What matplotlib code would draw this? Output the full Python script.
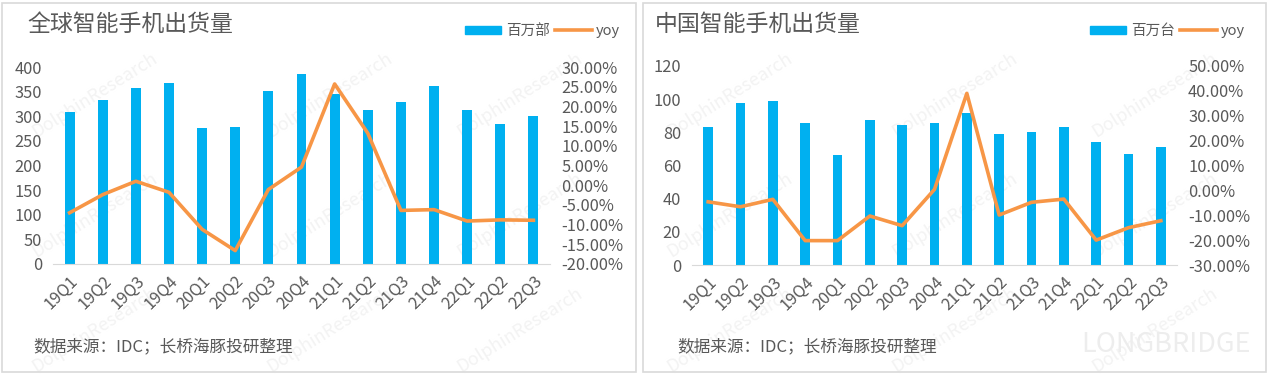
import matplotlib.pyplot as plt
import matplotlib.patches as mpatches
from matplotlib.lines import Line2D
from matplotlib.ticker import FuncFormatter

plt.rcParams['font.family'] = ['Noto Sans CJK SC', 'DejaVu Sans']

quarters = ['19Q1', '19Q2', '19Q3', '19Q4', '20Q1', '20Q2', '20Q3', '20Q4',
            '21Q1', '21Q2', '21Q3', '21Q4', '22Q1', '22Q2', '22Q3']

# global shipments (million units) and yoy (%)
global_ship = [309, 332, 357, 367, 276, 278, 352, 385, 345, 312, 329, 361, 313, 285, 300]
global_yoy = [-7.0, -2.4, 1.0, -1.8, -11.2, -16.6, -1.1, 4.6, 25.7, 13.2, -6.4, -6.2, -9.1, -8.8, -8.9]

# china shipments (million units) and yoy (%)
china_ship = [83.3, 97.5, 98.7, 85.9, 66.2, 87.7, 84.5, 85.9, 91.9, 78.7, 80.5, 83.1, 74.1, 67.0, 70.9]
china_yoy = [-4.6, -6.6, -3.6, -20.2, -20.2, -10.3, -14.2, 0.4, 39.0, -9.9, -4.8, -3.5, -20.0, -15.0, -12.2]

W, H = 1269, 376
BLUE = '#00B0F0'
ORANGE = '#F79646'
GRAY = '#595959'
LIGHT = '#D9D9D9'
TICK_FS = 11.8

fig = plt.figure(figsize=(W / 100, H / 100), dpi=100)


def px_rect(x0, y0, x1, y1):
    # pixel box (top-left origin) -> figure fraction [left, bottom, width, height]
    return [x0 / W, (H - y1) / H, (x1 - x0) / W, (y1 - y0) / H]


def watermark(xs, ys):
    for x in xs:
        for y in ys:
            fig.text(x / W, 1 - y / H, 'DolphinResearch', rotation=32, fontsize=13,
                     color='#F3F3F3', ha='center', va='center', zorder=-1)


def panel(box, ax_box, title, title_xy, unit, legend_x, ship, yoy, ymax, ystep,
          pmin, pmax, pstep, src_x):
    l, t, r, b = box
    fig.patches.append(mpatches.Rectangle((l / W, 1 - b / H), (r - l) / W, (b - t) / H,
                                          transform=fig.transFigure, fill=False,
                                          edgecolor=LIGHT, linewidth=1.2, zorder=0))
    fig.text(title_xy[0] / W, 1 - title_xy[1] / H, title, fontsize=16.5, color=GRAY,
             ha='left', va='center')

    ax = fig.add_axes(px_rect(*ax_box))
    ax.patch.set_alpha(0)
    x = range(len(quarters))
    ax.bar(x, ship, width=0.3, color=BLUE, zorder=2)
    ax.set_xlim(-0.5, len(quarters) - 0.5)
    ax.set_ylim(0, ymax)
    ax.set_yticks(range(0, ymax + 1, ystep))
    ax.set_xticks(list(x))
    ax.set_xticklabels(quarters, rotation=45, ha='right', va='top',
                       rotation_mode='anchor')
    for s in ['top', 'right', 'left']:
        ax.spines[s].set_visible(False)
    ax.spines['bottom'].set_color(LIGHT)
    ax.tick_params(length=0, labelsize=TICK_FS, colors=GRAY)
    ax.tick_params(axis='x', pad=6)
    ax.tick_params(axis='y', pad=8)

    ax2 = ax.twinx()
    ax2.plot(x, yoy, color=ORANGE, linewidth=2.6, zorder=3)
    ax2.set_ylim(pmin, pmax)
    ax2.set_yticks(range(pmin, pmax + 1, pstep))
    ax2.yaxis.set_major_formatter(FuncFormatter(lambda v, p: f'{v:.2f}%'))
    for s in ['top', 'right', 'left', 'bottom']:
        ax2.spines[s].set_visible(False)
    ax2.tick_params(length=0, labelsize=TICK_FS, colors=GRAY, pad=8)

    handles = [mpatches.Patch(color=BLUE, label=unit),
               Line2D([0], [0], color=ORANGE, linewidth=2.6, label='yoy')]
    fig.legend(handles=handles, loc='center left',
               bbox_to_anchor=(legend_x / W, 1 - 31 / H), ncol=2, frameon=False,
               fontsize=10.5, labelcolor=GRAY, handlelength=2.5, handleheight=0.5,
               columnspacing=0.4, handletextpad=0.3, borderaxespad=0)

    fig.text(src_x / W, 1 - 347 / H, '数据来源：IDC；长桥海豚投研整理', fontsize=12,
             color=GRAY, ha='left', va='center')
    return ax


watermark([95, 330, 520], [95, 215, 330])
watermark([730, 955, 1155], [95, 215, 330])
fig.text(1166 / W, 1 - 345 / H, 'LONGBRIDGE', fontsize=19.5, color='#EDEDED',
         ha='center', va='center', zorder=-1)

panel((2, 3, 636, 372), (53, 67, 550, 264), '全球智能手机出货量', (27, 24), '百万部', 459,
      global_ship, global_yoy, 400, 50, -20, 30, 5, 33)
panel((643, 3, 1266, 372), (692, 66, 1177, 265), '中国智能手机出货量', (655, 24), '百万台',
      1084, china_ship, china_yoy, 120, 20, -30, 50, 10, 677)

fig.savefig('out.png', dpi=100)
